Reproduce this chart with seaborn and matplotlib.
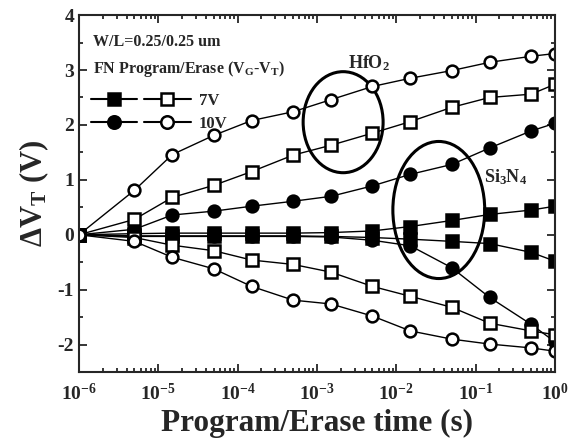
import numpy as np
import pandas as pd
import seaborn as sns
import matplotlib
matplotlib.use("Agg")
import matplotlib.pyplot as plt
from matplotlib.patches import Ellipse
from matplotlib.legend_handler import HandlerTuple
from matplotlib.lines import Line2D

# ---------------- data ----------------
time_s = [1e-6, 5e-6, 1.5e-5, 5e-5, 1.5e-4, 5e-4, 1.5e-3, 5e-3, 1.5e-2, 5e-2, 0.15, 0.5, 1.0]

hfo2_7v_program = [0, 0.28, 0.68, 0.90, 1.15, 1.45, 1.63, 1.85, 2.06, 2.32, 2.50, 2.56, 2.74]
hfo2_10v_program = [0, 0.81, 1.46, 1.81, 2.08, 2.24, 2.46, 2.70, 2.85, 2.99, 3.14, 3.25, 3.30]
hfo2_7v_erase = [0, -0.05, -0.19, -0.29, -0.46, -0.54, -0.68, -0.94, -1.12, -1.32, -1.61, -1.75, -1.82]
hfo2_10v_erase = [0, -0.12, -0.41, -0.62, -0.94, -1.19, -1.26, -1.48, -1.75, -1.90, -1.99, -2.06, -2.12]

si3n4_7v_program = [0, 0.02, 0.03, 0.03, 0.03, 0.03, 0.04, 0.07, 0.15, 0.26, 0.37, 0.45, 0.52]
si3n4_7v_erase = [0, -0.02, -0.02, -0.02, -0.02, -0.02, -0.03, -0.05, -0.08, -0.12, -0.16, -0.32, -0.48]
si3n4_10v_program = [0, 0.10, 0.36, 0.43, 0.52, 0.61, 0.70, 0.89, 1.10, 1.28, 1.58, 1.89, 2.03]
si3n4_10v_erase = [0, -0.03, -0.03, -0.03, -0.03, -0.03, -0.04, -0.10, -0.20, -0.60, -1.14, -1.63, -1.95]

x_tick_values = [1e-6, 1e-5, 1e-4, 1e-3, 1e-2, 1e-1, 1e0]
x_tick_labels = [r"$\mathbf{10^{-6}}$", r"$\mathbf{10^{-5}}$", r"$\mathbf{10^{-4}}$",
                 r"$\mathbf{10^{-3}}$", r"$\mathbf{10^{-2}}$", r"$\mathbf{10^{-1}}$",
                 r"$\mathbf{10^{0}}$"]
y_tick_values = [-2, -1, 0, 1, 2, 3, 4]

# ---------------- style ----------------
sns.set_style("ticks")
plt.rcParams["font.family"] = ["Liberation Serif", "DejaVu Serif"]
plt.rcParams["font.weight"] = "bold"
plt.rcParams["mathtext.fontset"] = "custom"
plt.rcParams["mathtext.rm"] = "Liberation Serif:bold"
plt.rcParams["mathtext.bf"] = "Liberation Serif:bold"
plt.rcParams["mathtext.it"] = "Liberation Serif:bold"

fig = plt.figure(figsize=(5.68, 4.44), dpi=100)
ax = fig.add_axes([0.139, 0.162, 0.838, 0.804])

series = [
    (si3n4_7v_program, "s", "black"),
    (si3n4_7v_erase, "s", "black"),
    (si3n4_10v_program, "o", "black"),
    (si3n4_10v_erase, "o", "black"),
    (hfo2_7v_program, "s", "white"),
    (hfo2_7v_erase, "s", "white"),
    (hfo2_10v_program, "o", "white"),
    (hfo2_10v_erase, "o", "white"),
]

for vals, mk, fc in series:
    df = pd.DataFrame({"t": time_s, "dv": vals})
    sns.lineplot(data=df, x="t", y="dv", ax=ax, color="black", linewidth=1.0,
                 marker=mk, markersize=8.5, markerfacecolor=fc,
                 markeredgecolor="black", markeredgewidth=1.8, legend=False)

ax.set_xscale("log")
ax.set_xlim(1e-6, 1.0)
ax.set_ylim(-2.48, 4.0)
ax.set_xticks(x_tick_values)
ax.set_xticklabels(x_tick_labels)
ax.set_yticks(y_tick_values)
ax.set_yticklabels([str(v) for v in y_tick_values])
ax.set_yticks(np.arange(-2.5, 4.01, 0.5), minor=True)
ax.tick_params(axis="both", which="both", direction="in", top=True, right=True,
               labelsize=14, width=1.3)
ax.tick_params(which="major", length=6)
ax.tick_params(which="minor", length=3)
ax.tick_params(axis="x", pad=8)
for lbl in ax.get_yticklabels():
    lbl.set_fontweight("bold")
for sp in ax.spines.values():
    sp.set_linewidth(1.5)

ax.set_xlabel("Program/Erase time (s)", fontsize=22.5, fontweight="bold", labelpad=3)
ax.set_ylabel(r"$\Delta$V$_\mathrm{T}$ (V)", fontsize=22, fontweight="bold", labelpad=5)

# annotations
ax.text(0.03, 0.925, "W/L=0.25/0.25 um", transform=ax.transAxes, fontsize=11.5,
        fontweight="bold", va="center", ha="left")
ax.text(0.03, 0.848, r"FN Program/Erase (V$_\mathrm{G}$-V$_\mathrm{T}$)", transform=ax.transAxes,
        fontsize=11.5, fontweight="bold", va="center", ha="left")
ax.text(0.565, 0.865, r"HfO$_\mathrm{2}$", transform=ax.transAxes, fontsize=13,
        fontweight="bold", va="center", ha="left")
ax.text(0.852, 0.545, r"Si$_\mathrm{3}$N$_\mathrm{4}$", transform=ax.transAxes, fontsize=13,
        fontweight="bold", va="center", ha="left")

ax.add_patch(Ellipse((0.555, 0.700), 0.168, 0.283, transform=ax.transAxes,
                     fill=False, edgecolor="black", linewidth=2.2))
ax.add_patch(Ellipse((0.756, 0.454), 0.193, 0.384, transform=ax.transAxes,
                     fill=False, edgecolor="black", linewidth=2.2))

# legend
def mk(marker, fc):
    return Line2D([], [], color="black", linewidth=1.5, marker=marker, markersize=9,
                  markerfacecolor=fc, markeredgecolor="black", markeredgewidth=1.8)

handles = [(mk("s", "black"), mk("s", "white")), (mk("o", "black"), mk("o", "white"))]
leg = ax.legend(handles, ["7V", "10V"], handler_map={tuple: HandlerTuple(ndivide=None, pad=0.4)},
                loc="upper left", bbox_to_anchor=(0.0, 0.815), frameon=False,
                handlelength=6.0, handletextpad=0.5, labelspacing=0.45,
                prop={"size": 12, "weight": "bold"}, borderaxespad=0.3)

fig.savefig("out.png", dpi=100)
